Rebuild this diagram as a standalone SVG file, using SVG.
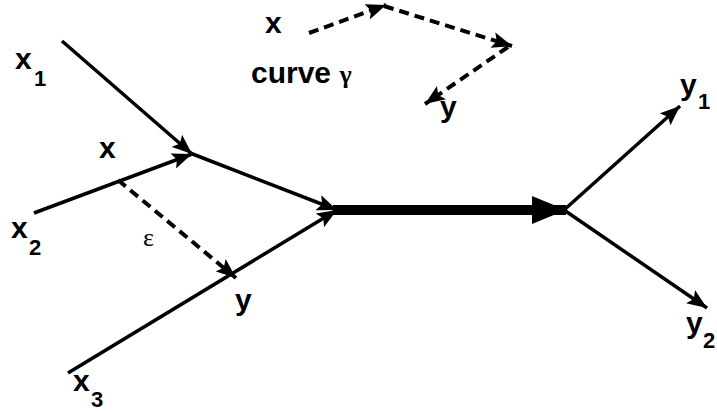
<svg xmlns="http://www.w3.org/2000/svg" width="717" height="412" viewBox="0 0 717 412">
<style>
.ln{stroke:#000;stroke-width:3.5;fill:none}
.dash{stroke:#000;stroke-width:4;fill:none;stroke-dasharray:10 6}
.thick{stroke:#000;stroke-width:10;fill:none}
.lbl{font-family:"Liberation Sans",Arial,sans-serif;font-weight:bold;font-size:30px;fill:#000}
.sub{font-family:"Liberation Sans",Arial,sans-serif;font-weight:bold;font-size:22px;fill:#000}
.gr{font-family:"Liberation Serif","DejaVu Serif",serif;font-size:26px;fill:#000}
</style>
<defs>
<marker id="ah" markerUnits="userSpaceOnUse" markerWidth="22" markerHeight="16" refX="20" refY="8" orient="auto">
<path d="M0,0 L20,8 L0,16 L4,8 Z" fill="#000"/>
</marker>
<marker id="ahBig" markerUnits="userSpaceOnUse" markerWidth="36" markerHeight="28" refX="34" refY="14" orient="auto">
<path d="M0,0 L34,14 L0,28 Z" fill="#000"/>
</marker>
</defs>
<g id="connectors">
<line class="ln" x1="62" y1="41" x2="192" y2="154" marker-end="url(#ah)"/>
<line class="ln" x1="34" y1="213" x2="192" y2="154" marker-end="url(#ah)"/>
<line class="ln" x1="190" y1="153" x2="337" y2="210" stroke-width="4.5" marker-end="url(#ah)"/>
<line class="ln" x1="68" y1="373" x2="337" y2="210" marker-end="url(#ah)"/>
<line class="thick" x1="333" y1="210" x2="566" y2="210" marker-end="url(#ahBig)"/>
<line class="ln" x1="564" y1="210" x2="680" y2="106" marker-end="url(#ah)"/>
<line class="ln" x1="564" y1="210" x2="707" y2="308" marker-end="url(#ah)"/>
<line class="dash" x1="118" y1="180" x2="236" y2="278" marker-end="url(#ah)"/>
<line class="dash" x1="309" y1="33" x2="386" y2="5" marker-end="url(#ah)"/>
<line class="dash" x1="384" y1="6" x2="512" y2="46" marker-end="url(#ah)"/>
<line class="dash" x1="508" y1="47" x2="425" y2="104" marker-end="url(#ah)"/>
</g>
<g id="label-x1"><text class="lbl" x="15" y="69">x</text><text class="sub" x="34" y="86">1</text></g>
<g id="label-x"><text class="lbl" x="99" y="158">x</text></g>
<g id="label-x2"><text class="lbl" x="11" y="238">x</text><text class="sub" x="29" y="255">2</text></g>
<g id="label-eps"><text class="gr" x="143" y="246">ε</text></g>
<g id="label-y"><text class="lbl" x="235" y="310">y</text></g>
<g id="label-x3"><text class="lbl" x="73" y="391">x</text><text class="sub" x="91" y="407">3</text></g>
<g id="label-xtop"><text class="lbl" x="265" y="33">x</text></g>
<g id="label-curve"><text class="lbl" x="251" y="83">curve <tspan class="gr">γ</tspan></text></g>
<g id="label-ytop"><text class="lbl" x="440" y="117">y</text></g>
<g id="label-y1"><text class="lbl" x="680" y="95">y</text><text class="sub" x="698" y="109">1</text></g>
<g id="label-y2"><text class="lbl" x="686" y="333">y</text><text class="sub" x="703" y="348">2</text></g>
</svg>
